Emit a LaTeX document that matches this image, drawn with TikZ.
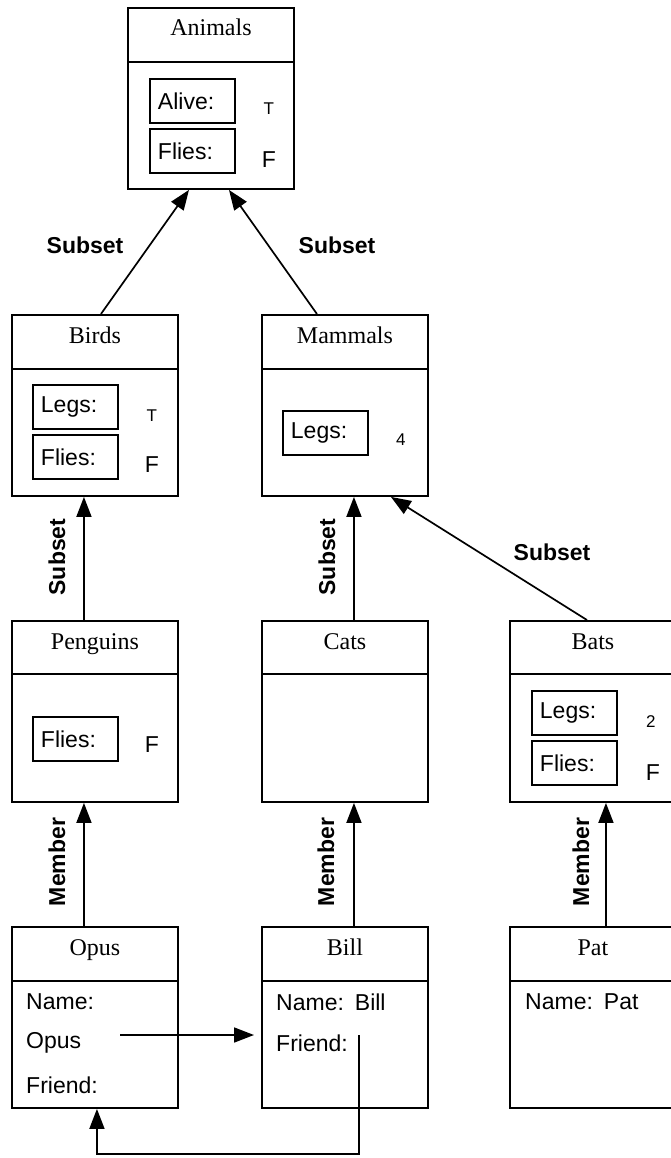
\documentclass[tikz,border=0pt]{standalone}
\usepackage{fontspec}
\setmainfont{Liberation Sans}
\newfontfamily\titlefont{Liberation Serif}
\usetikzlibrary{arrows.meta,calc}

\begin{document}
\begin{tikzpicture}[x=1pt,y=-1pt,
  frame/.style={draw,line width=1.9pt,minimum width=166pt,minimum height=181pt,
    anchor=north west,inner sep=0pt},
  rule/.style={line width=1.9pt},
  title/.style={anchor=base,font=\titlefont\fontsize{24pt}{27pt}\selectfont},
  slot/.style={draw,line width=1.9pt,anchor=north west,minimum height=44pt,
    text width=69pt,inner xsep=8pt,inner ysep=0pt,align=left,
    font=\fontsize{23pt}{26pt}\selectfont},
  valsmall/.style={font=\fontsize{17pt}{20pt}\selectfont,inner sep=0pt},
  valbig/.style={font=\fontsize{23pt}{26pt}\selectfont,inner sep=0pt},
  body/.style={anchor=west,inner sep=0pt,font=\fontsize{23pt}{26pt}\selectfont},
  lab/.style={inner sep=0pt,font=\bfseries\fontsize{23pt}{26pt}\selectfont},
  conn/.style={line width=1.7pt,-{Triangle[length=20pt,width=15pt]}}]

\path[fill=white] (0,0) rectangle (670,1158);
\useasboundingbox (0,0) rectangle (670,1158);

% ---- Animals
\node[frame] (animals) at (127,7) {};
\node[title] at ($(animals.north)+(0,29)$) {Animals};
\draw[rule] ($(animals.north west)+(0,55)$) -- ($(animals.north east)+(0,55)$);
\node[slot] (animals-alive) at ($(animals.north west)+(22,71)$) {Alive:};
\node[valsmall] (animals-alive-v) at ($(animals-alive.east)+(33,8)$) {T};
\node[slot] (animals-flies) at ($(animals.north west)+(22,121)$) {Flies:};
\node[valbig] (animals-flies-v) at ($(animals-flies.east)+(33,9)$) {F};

% ---- Birds
\node[frame] (birds) at (11,314) {};
\node[title] at ($(birds.north)+(0,29)$) {Birds};
\draw[rule] ($(birds.north west)+(0,55)$) -- ($(birds.north east)+(0,55)$);
\node[slot] (birds-legs) at ($(birds.north west)+(21,70)$) {Legs:};
\node[valsmall] (birds-legs-v) at ($(birds-legs.east)+(33,9)$) {T};
\node[slot] (birds-flies) at ($(birds.north west)+(21,120)$) {Flies:};
\node[valbig] (birds-flies-v) at ($(birds-flies.east)+(33,8)$) {F};

% ---- Mammals
\node[frame] (mammals) at (261,314) {};
\node[title] at ($(mammals.north)+(0,29)$) {Mammals};
\draw[rule] ($(mammals.north west)+(0,55)$) -- ($(mammals.north east)+(0,55)$);
\node[slot] (mammals-legs) at ($(mammals.north west)+(21,96)$) {Legs:};
\node[valsmall] (mammals-legs-v) at ($(mammals-legs.east)+(32,7)$) {4};

% ---- Penguins
\node[frame] (penguins) at (11,620) {};
\node[title] at ($(penguins.north)+(0,29)$) {Penguins};
\draw[rule] ($(penguins.north west)+(0,54)$) -- ($(penguins.north east)+(0,54)$);
\node[slot] (penguins-flies) at ($(penguins.north west)+(21,96)$) {Flies:};
\node[valbig] (penguins-flies-v) at ($(penguins-flies.east)+(33,6)$) {F};

% ---- Cats
\node[frame] (cats) at (261,620) {};
\node[title] at ($(cats.north)+(0,29)$) {Cats};
\draw[rule] ($(cats.north west)+(0,54)$) -- ($(cats.north east)+(0,54)$);

% ---- Bats
\node[frame] (bats) at (509,620) {};
\node[title] at ($(bats.north)+(0,29)$) {Bats};
\draw[rule] ($(bats.north west)+(0,54)$) -- ($(bats.north east)+(0,54)$);
\node[slot] (bats-legs) at ($(bats.north west)+(22,70)$) {Legs:};
\node[valsmall] (bats-legs-v) at ($(bats-legs.east)+(33,9)$) {2};
\node[slot] (bats-flies) at ($(bats.north west)+(22,120)$) {Flies:};
\node[valbig] (bats-flies-v) at ($(bats-flies.east)+(35,10)$) {F};

% ---- Opus
\node[frame] (opus) at (11,926) {};
\node[title] at ($(opus.north)+(0,29)$) {Opus};
\draw[rule] ($(opus.north west)+(0,55)$) -- ($(opus.north east)+(0,55)$);
\node[body] (opus-name) at ($(opus.north west)+(15,76)$) {Name:};
\node[body] (opus-namev) at ($(opus.north west)+(15,117)$) {Opus};
\node[body] (opus-friend) at ($(opus.north west)+(15,159)$) {Friend:};

% ---- Bill
\node[frame] (bill) at (261,926) {};
\node[title] at ($(bill.north)+(0,29)$) {Bill};
\draw[rule] ($(bill.north west)+(0,55)$) -- ($(bill.north east)+(0,55)$);
\node[body] (bill-name) at ($(bill.north west)+(15,76)$) {Name:\hspace{11pt}Bill};
\node[body] (bill-friend) at ($(bill.north west)+(15,117)$) {Friend:};

% ---- Pat
\node[frame] (pat) at (509,926) {};
\node[title] at ($(pat.north)+(0,29)$) {Pat};
\draw[rule] ($(pat.north west)+(0,55)$) -- ($(pat.north east)+(0,55)$);
\node[body] (pat-name) at ($(pat.north west)+(16,76)$) {Name:\hspace{11pt}Pat};

% ---- Subset / member links
\draw[conn] ([xshift=6pt]birds.north) -- ([xshift=-22pt]animals.south);
\draw[conn] ([xshift=-28pt]mammals.north) -- ([xshift=18pt]animals.south);
\draw[conn] ([xshift=-11pt]penguins.north) -- ([xshift=-11pt]birds.south);
\draw[conn] ([xshift=9pt]cats.north) -- ([xshift=9pt]mammals.south);
\draw[conn] ([xshift=-6pt]bats.north) -- ([xshift=46pt]mammals.south);
\draw[conn] ([xshift=-11pt]opus.north) -- ([xshift=-11pt]penguins.south);
\draw[conn] ([xshift=9pt]bill.north) -- ([xshift=9pt]cats.south);
\draw[conn] ([xshift=13pt]pat.north) -- ([xshift=13pt]bats.south);

\node[lab] (lab-birds) at (85,245) {Subset};
\node[lab] (lab-mammals) at (337,245) {Subset};
\node[lab,rotate=90] (lab-penguins) at (57,557) {Subset};
\node[lab,rotate=90] (lab-cats) at (327,557) {Subset};
\node[lab] (lab-bats) at (552,552) {Subset};
\node[lab,rotate=90] (lab-opus) at (57,862) {Member};
\node[lab,rotate=90] (lab-bill) at (326,862) {Member};
\node[lab,rotate=90] (lab-pat) at (581,862) {Member};

% ---- Friend references
\coordinate (opus-ref) at ($(opus.north west)+(109,109)$);
\coordinate (bill-ref) at ($(bill.north west)+(98,109)$);
\draw[conn] (opus-ref) -- ($(bill.west |- opus-ref)+(-7,0)$);
\draw[conn] (bill-ref) -- ++(0,119) -| ([xshift=2pt]opus.south);

\end{tikzpicture}
\end{document}
